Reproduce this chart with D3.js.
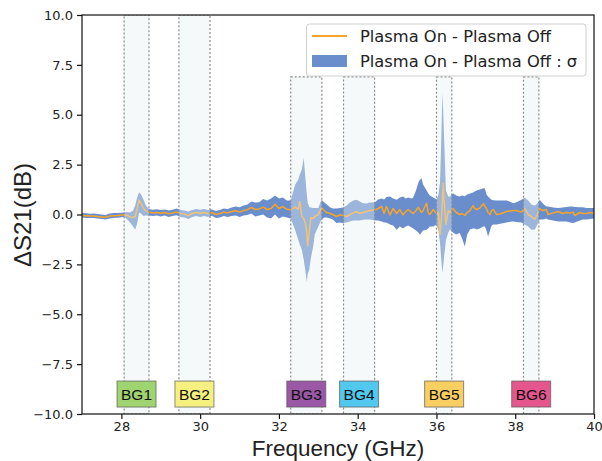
<!DOCTYPE html>
<html>
<head>
<meta charset="utf-8">
<script src="https://cdn.jsdelivr.net/npm/d3@7"></script>
<style>
  html, body { margin: 0; padding: 0; background: #fff; }
  svg { display: block; }
</style>
</head>
<body>
<svg id="chart" width="602" height="461"></svg>
<script>
// ---- data ----
const freq = [27.0,27.1,27.2,27.3,27.4,27.5,27.6,27.7,27.8,27.9,28.0,28.08,28.15,28.22,28.3,28.35,28.4,28.45,28.5,28.56,28.62,28.7,28.8,28.9,29.0,29.1,29.2,29.3,29.4,29.5,29.6,29.7,29.8,29.9,30.0,30.1,30.2,30.3,30.4,30.5,30.6,30.7,30.8,30.9,31.0,31.1,31.2,31.3,31.4,31.5,31.6,31.7,31.8,31.9,32.0,32.1,32.2,32.3,32.41,32.49,32.53,32.58,32.63,32.69,32.71,32.73,32.77,32.81,32.87,32.91,33.0,33.08,33.15,33.21,33.3,33.37,33.46,33.55,33.63,33.72,33.8,33.89,33.97,34.05,34.14,34.22,34.31,34.44,34.52,34.61,34.67,34.73,34.82,34.9,34.99,35.07,35.15,35.22,35.28,35.37,35.41,35.48,35.54,35.58,35.62,35.66,35.75,35.79,35.83,35.92,36.0,36.05,36.09,36.12,36.15,36.17,36.2,36.24,36.3,36.34,36.42,36.5,36.59,36.65,36.72,36.78,36.85,36.93,36.97,37.02,37.1,37.19,37.23,37.27,37.31,37.36,37.4,37.44,37.53,37.65,37.78,37.91,37.95,38.03,38.16,38.24,38.33,38.41,38.5,38.56,38.62,38.7,38.79,38.83,38.96,39.09,39.2,39.3,39.39,39.47,39.51,39.64,39.72,39.81,39.9,40.0];
const meanDiff = [-0.05,-0.06,-0.08,-0.07,-0.1,-0.12,-0.14,-0.08,-0.06,-0.05,-0.03,-0.02,-0.05,-0.12,-0.15,-0.1,0.3,0.72,0.55,0.32,0.18,0.12,0.08,0.1,0.06,0.1,0.04,0.08,0.12,0.05,0.02,-0.05,0.05,0.1,0.06,0.1,0.05,0.1,0.0,0.05,0.12,0.08,0.15,0.19,0.12,0.2,0.24,0.35,0.25,0.28,0.37,0.25,0.3,0.52,0.3,0.4,0.26,0.24,0.37,0.25,0.65,-0.1,-0.2,-0.6,-1.0,-1.57,-0.9,-0.15,-0.2,-0.1,0.0,0.33,0.2,0.1,0.05,0.0,-0.1,-0.02,-0.05,-0.1,0.0,0.08,0.15,0.05,0.1,0.15,0.2,0.22,0.3,0.4,0.05,0.4,-0.02,0.3,0.05,0.25,-0.02,0.15,0.25,0.1,0.05,0.2,0.36,0.2,0.1,0.2,0.57,0.1,0.0,0.25,0.05,0.1,-1.0,-0.4,0.6,1.57,0.5,-0.5,0.2,0.1,0.3,0.1,0.0,0.05,-0.05,0.1,0.19,0.45,0.3,0.25,0.32,0.54,0.4,0.3,0.1,0.0,0.2,0.25,0.0,0.05,0.15,0.19,0.2,0.2,0.12,0.3,0.0,-0.1,-0.24,0.0,0.3,0.2,0.25,0.0,0.08,0.15,0.05,0.1,0.08,0.12,-0.05,0.1,0.05,0.05,0.1,0.05];
const bandLow = [-0.15,-0.17,-0.18,-0.18,-0.2,-0.22,-0.25,-0.2,-0.17,-0.16,-0.14,-0.13,-0.25,-0.4,-0.6,-0.77,-0.45,0.1,0.05,-0.08,-0.05,-0.05,-0.08,-0.05,-0.1,-0.05,-0.12,-0.08,-0.04,-0.12,-0.15,-0.22,-0.12,-0.08,-0.12,-0.08,-0.12,-0.06,-0.18,-0.15,-0.08,-0.12,-0.08,-0.05,-0.12,-0.05,-0.02,0.05,-0.1,-0.05,0.0,-0.15,-0.2,0.0,-0.2,-0.1,-0.15,-0.2,-0.77,-1.27,-1.5,-1.77,-2.27,-3.1,-3.4,-3.0,-2.77,-2.2,-1.6,-1.0,-0.6,-0.26,-0.15,-0.15,-0.2,-0.25,-0.43,-0.4,-0.43,-0.4,-0.35,-0.3,-0.3,-0.3,-0.26,-0.25,-0.25,-0.3,-0.3,-0.35,-0.4,-0.4,-0.5,-0.55,-0.76,-0.6,-0.7,-0.6,-0.55,-0.65,-0.7,-0.8,-0.9,-1.02,-0.9,-0.8,-0.77,-0.7,-0.6,-0.6,-0.5,-0.8,-1.4,-2.2,-2.94,-2.6,-2.0,-1.3,-0.9,-0.75,-0.9,-1.0,-0.93,-1.2,-1.6,-1.0,-0.75,-0.7,-0.7,-0.75,-0.7,-0.6,-0.6,-0.8,-1.1,-0.8,-0.55,-0.5,-0.5,-0.45,-0.4,-0.35,-0.35,-0.38,-0.4,-0.5,-0.6,-0.77,-0.75,-0.5,-0.25,-0.25,-0.2,-0.25,-0.3,-0.35,-0.35,-0.35,-0.4,-0.43,-0.4,-0.3,-0.25,-0.25,-0.22,-0.2];
const bandHigh = [0.08,0.06,0.04,0.05,0.02,0.0,-0.02,0.05,0.07,0.07,0.09,0.1,0.12,0.1,0.2,0.45,0.85,1.12,1.0,0.75,0.45,0.28,0.24,0.26,0.22,0.25,0.2,0.24,0.3,0.22,0.2,0.15,0.22,0.27,0.24,0.28,0.22,0.25,0.18,0.22,0.3,0.28,0.35,0.4,0.36,0.45,0.5,0.65,0.6,0.62,0.78,0.7,0.8,0.95,0.8,0.85,0.7,0.7,1.49,1.74,2.0,2.24,2.83,1.4,1.0,0.6,0.37,0.35,0.32,0.32,0.32,0.74,0.6,0.52,0.35,0.3,0.3,0.32,0.35,0.45,0.6,0.7,0.74,0.65,0.57,0.55,0.6,0.62,0.75,0.8,0.75,0.88,0.9,0.8,0.74,0.85,0.9,0.8,0.85,0.8,0.85,1.2,1.6,1.74,1.82,1.5,1.2,1.07,0.95,0.85,0.75,1.0,1.6,3.6,6.08,5.2,3.5,1.2,0.9,0.9,1.07,0.95,0.9,0.95,0.92,1.0,1.05,1.1,1.15,1.2,1.25,1.32,1.3,1.0,0.9,0.8,0.74,0.72,0.7,0.7,0.7,0.6,0.57,0.62,0.74,0.84,0.7,0.5,0.45,0.55,0.74,0.55,0.4,0.4,0.35,0.32,0.35,0.38,0.4,0.4,0.38,0.36,0.36,0.32,0.32,0.32];

const bgNames  = ["BG1","BG2","BG3","BG4","BG5","BG6"];
const bgStart  = [28.07, 29.46, 32.30, 33.64, 36.00, 38.21];
const bgEnd    = [28.70, 30.25, 33.09, 34.43, 36.39, 38.60];
const bgTop    = [10, 10, 6.9, 6.9, 6.9, 6.9];
const bgColors = ["#a0d470", "#f6f081", "#9a58a6", "#52c8ef", "#f9cf62", "#e5578c"];

const xTicks = [28, 30, 32, 34, 36, 38, 40];
const yTicks = [-10, -7.5, -5, -2.5, 0, 2.5, 5, 7.5, 10];
const legendLabels = ["Plasma On - Plasma Off", "Plasma On - Plasma Off : σ"];

// ---- layout ----
const svg = d3.select("#chart");
const m = {left: 82, top: 15, right: 594, bottom: 414};
const x = d3.scaleLinear().domain([27, 40]).range([m.left, m.right]);
const y = d3.scaleLinear().domain([-10, 10]).range([m.bottom, m.top]);

const lineColor = "#f5a52a";
const bandColor = "#6a8ecb";

const data = freq.map((f, i) => ({f, m: meanDiff[i], lo: bandLow[i], hi: bandHigh[i]}));

svg.append("defs").append("clipPath").attr("id", "clip")
  .append("rect").attr("x", m.left).attr("y", m.top)
  .attr("width", m.right - m.left).attr("height", m.bottom - m.top);

const plot = svg.append("g").attr("clip-path", "url(#clip)");

plot.append("path").datum(data)
  .attr("fill", bandColor)
  .attr("d", d3.area().x(d => x(d.f)).y0(d => y(d.lo)).y1(d => y(d.hi)));

plot.append("path").datum(data)
  .attr("fill", "none").attr("stroke", lineColor).attr("stroke-width", 1.5)
  .attr("stroke-linejoin", "round")
  .attr("d", d3.line().x(d => x(d.f)).y(d => y(d.m)));

// background-region rectangles (drawn over the data, semi-transparent)
bgNames.forEach((n, i) => {
  plot.append("rect")
    .attr("x", x(bgStart[i])).attr("y", y(bgTop[i]))
    .attr("width", x(bgEnd[i]) - x(bgStart[i]))
    .attr("height", y(-10) - y(bgTop[i]))
    .attr("fill", "#e9efef").attr("fill-opacity", 0.4)
    .attr("stroke", "#8c8c8c").attr("stroke-width", 1.2)
    .attr("stroke-dasharray", "2,2");
});

// label boxes
bgNames.forEach((n, i) => {
  const cx = x((bgStart[i] + bgEnd[i]) / 2);
  const cy = y(-9.0);
  const g = svg.append("g");
  g.append("rect")
    .attr("x", cx - 19.5).attr("y", cy - 13)
    .attr("width", 39).attr("height", 26)
    .attr("fill", bgColors[i]).attr("stroke", "#5a5a5a").attr("stroke-opacity", 0.7)
    .attr("stroke-width", 1);
  g.append("text").attr("x", cx).attr("y", cy + 5.5)
    .attr("text-anchor", "middle")
    .attr("font-family", "Liberation Sans, Arial, sans-serif")
    .attr("font-size", 15.5).attr("fill", "#111")
    .text(n);
});

// axes frame
svg.append("rect").attr("x", m.left).attr("y", m.top)
  .attr("width", m.right - m.left).attr("height", m.bottom - m.top)
  .attr("fill", "none").attr("stroke", "#111").attr("stroke-width", 1.2);

const xAxis = svg.append("g").attr("transform", `translate(0,${m.bottom})`)
  .call(d3.axisBottom(x).tickValues(xTicks).tickSize(5).tickPadding(3).tickFormat(d3.format("d")));
const yAxis = svg.append("g").attr("transform", `translate(${m.left},0)`)
  .call(d3.axisLeft(y).tickValues(yTicks).tickSize(5).tickPadding(4).tickFormat(d3.format(".1f")));
[xAxis, yAxis].forEach(a => {
  a.select(".domain").remove();
  a.selectAll(".tick line").attr("stroke", "#111").attr("stroke-width", 1.2);
  a.selectAll(".tick text").attr("font-family", "DejaVu Sans, sans-serif")
    .attr("font-size", 13).attr("fill", "#222");
});

// axis titles
svg.append("text").attr("x", 338).attr("y", 456)
  .attr("text-anchor", "middle")
  .attr("font-family", "Liberation Sans, Arial, sans-serif")
  .attr("font-size", 22.5).attr("fill", "#222")
  .text("Frequency (GHz)");
svg.append("text")
  .attr("transform", "translate(31,215) rotate(-90)")
  .attr("text-anchor", "middle")
  .attr("font-family", "Liberation Sans, Arial, sans-serif")
  .attr("font-size", 24).attr("fill", "#222")
  .text("ΔS21(dB)");

// legend
const lg = svg.append("g");
lg.append("rect").attr("x", 306.5).attr("y", 24).attr("width", 279.5).attr("height", 52)
  .attr("rx", 3).attr("fill", "#fff").attr("fill-opacity", 0.85)
  .attr("stroke", "#d0d0d0").attr("stroke-width", 1);
lg.append("line").attr("x1", 312).attr("x2", 347).attr("y1", 36).attr("y2", 36)
  .attr("stroke", lineColor).attr("stroke-width", 1.8);
lg.append("rect").attr("x", 312).attr("y", 55).attr("width", 35).attr("height", 12)
  .attr("fill", bandColor);
legendLabels.forEach((t, i) => {
  lg.append("text").attr("x", 360).attr("y", 42 + i * 25)
    .attr("font-family", "DejaVu Sans, sans-serif").attr("font-size", 16.3)
    .attr("fill", "#222").text(t);
});
</script>
</body>
</html>
